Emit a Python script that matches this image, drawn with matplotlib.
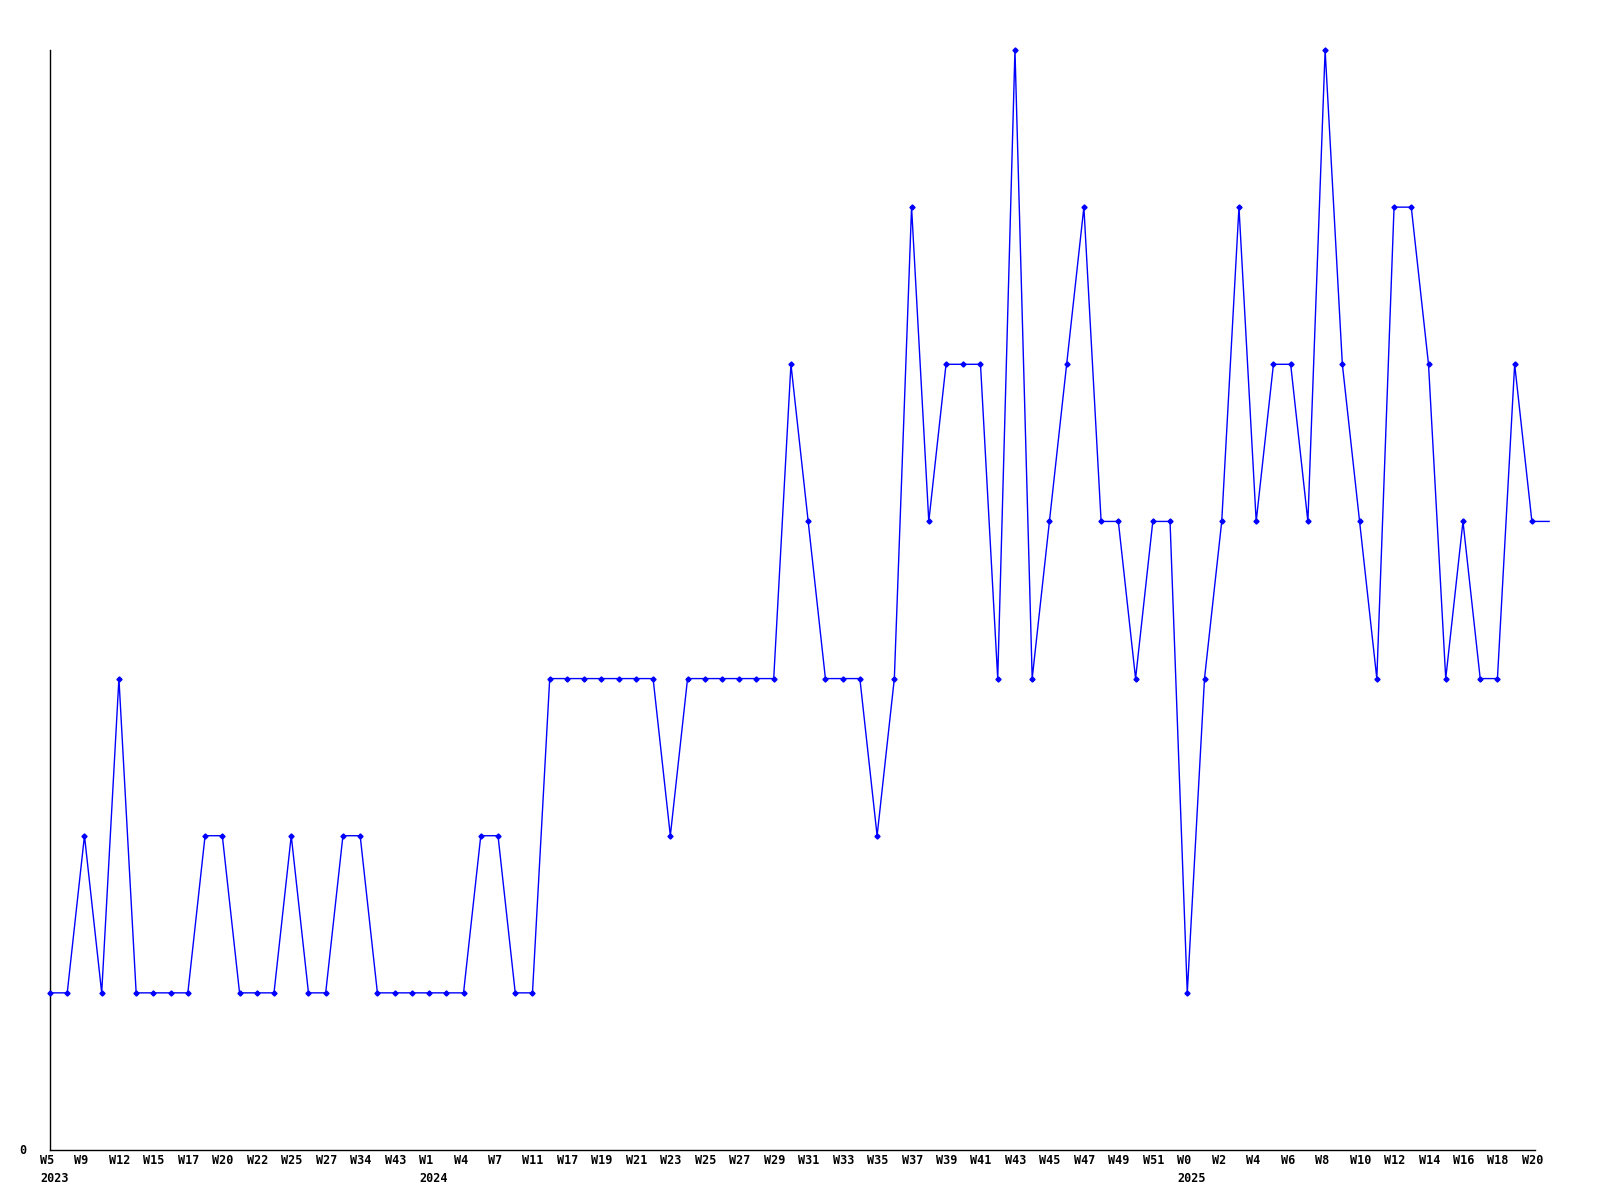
import matplotlib
matplotlib.use("Agg")
import matplotlib.pyplot as plt
import matplotlib.transforms as mtransforms
import numpy as np

# Weekly values (one per data point)
values = [1, 1, 2, 1, 3, 1, 1, 1, 1, 2,
          2, 1, 1, 1, 2, 1, 1, 2, 2, 1,
          1, 1, 1, 1, 1, 2, 2, 1, 1, 3,
          3, 3, 3, 3, 3, 3, 2, 3, 3, 3,
          3, 3, 3, 5, 4, 3, 3, 3, 2, 3,
          6, 4, 5, 5, 5, 3, 7, 3, 4, 5,
          6, 4, 4, 3, 4, 4, 1, 3, 4, 6,
          4, 5, 5, 4, 7, 5, 4, 3, 6, 6,
          5, 3, 4, 3, 3, 5, 4, 4]

# Tick labels (every other point)
tick_labels = ["W5\n2023", "W9", "W12", "W15", "W17", "W20", "W22", "W25", "W27", "W34",
               "W43", "W1\n2024", "W4", "W7", "W11", "W17", "W19", "W21", "W23", "W25",
               "W27", "W29", "W31", "W33", "W35", "W37", "W39", "W41", "W43", "W45",
               "W47", "W49", "W51", "W0\n2025", "W2", "W4", "W6", "W8", "W10", "W12",
               "W14", "W16", "W18", "W20"]

fig = plt.figure(figsize=(16, 12), dpi=100)
ax = fig.add_axes([50/1600, 50/1200, 1485/1600, 1100/1200])

x = np.arange(len(values))
ax.plot(x, values, color="#0000ff", linewidth=1.0, marker="D", markersize=2.6,
        markevery=list(range(len(values) - 1)), clip_on=False, zorder=3)

ax.set_xlim(0, 86.18)
ax.set_ylim(0, 7)

ticks = np.arange(0, 2 * len(tick_labels), 2)
ax.set_xticks(ticks)
ax.set_xticklabels([])
ax.set_yticks([0])
ax.set_yticklabels([])
ax.tick_params(axis="both", length=0)

font = dict(fontfamily="DejaVu Sans Mono", fontweight="bold", fontsize=8.5)
xoff = mtransforms.ScaledTranslation(-10/100, -4/100, fig.dpi_scale_trans)
for t, lab in zip(ticks, tick_labels):
    ax.text(t, 0, lab, transform=ax.get_xaxis_transform() + xoff,
            ha="left", va="top", linespacing=1.45, clip_on=False, **font)

yoff = mtransforms.ScaledTranslation(-31/100, 0, fig.dpi_scale_trans)
ax.text(0, 0, "0", transform=ax.transData + yoff, ha="left", va="center",
        clip_on=False, **font)

for s in ["top", "right"]:
    ax.spines[s].set_visible(False)
for s in ["left", "bottom"]:
    ax.spines[s].set_color("black")
    ax.spines[s].set_linewidth(1.0)

fig.savefig("out.png", dpi=100, facecolor="white")
